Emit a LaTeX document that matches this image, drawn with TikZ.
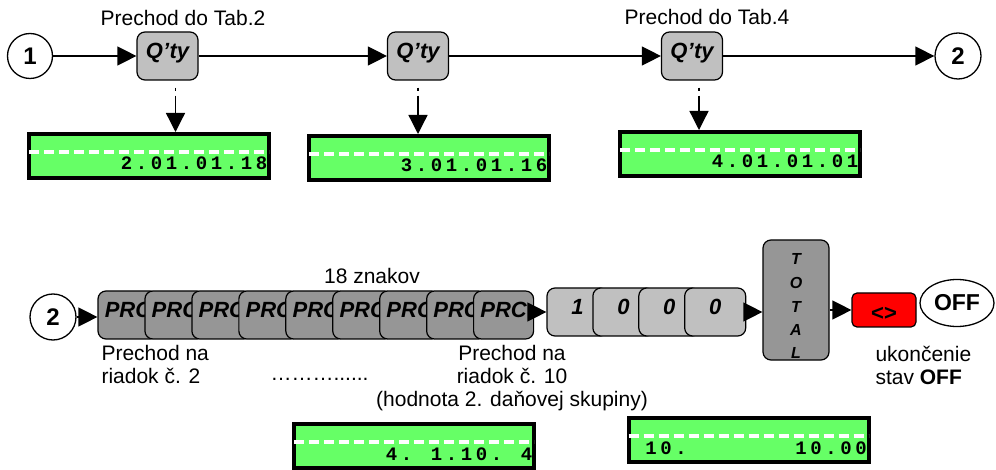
\documentclass[tikz,border=0pt]{standalone}
\usepackage{fontspec}
\setmainfont{Liberation Sans}
\newfontfamily\lcdfont{Liberation Mono}
\usepackage{tikz}
\usetikzlibrary{arrows.meta, positioning, shapes.geometric}
\definecolor{keylight}{HTML}{C0C0C0}
\definecolor{keydark}{HTML}{969696}
\definecolor{keyred}{HTML}{FF0000}
\definecolor{lcdgreen}{HTML}{66FF66}
% one fixed cell per display character
\newcommand\lcdchars[1]{\lcdloop#1\relax}
\def\lcdloop#1{\ifx\relax#1\else\makebox[15pt]{#1}\expandafter\lcdloop\fi}

\begin{document}
\begin{tikzpicture}[x=1pt, y=-1pt, font=\fontsize{21}{23}\selectfont,
    arr/.style={-{Triangle[length=19pt,width=19pt]}, line width=1.3pt},
    keyc/.style={circle, draw, line width=1.3pt, minimum size=45pt, inner sep=0pt, font=\fontsize{24}{24}\selectfont\bfseries},
    qty/.style={draw, line width=1.2pt, rounded corners=8pt, fill=keylight, minimum width=61pt, minimum height=48pt, inner sep=0pt, text height=15pt, text depth=10pt, font=\fontsize{22}{22}\selectfont\bfseries\itshape},
    prc/.style={qty, fill=keydark, minimum width=60pt},
    total/.style={draw, line width=1.2pt, rounded corners=8pt, fill=keydark, minimum width=66pt, minimum height=120pt, inner sep=0pt, align=center, font=\fontsize{16}{23.5}\selectfont\bfseries\itshape},
    lcd/.style={draw, line width=4pt, fill=lcdgreen, minimum width=240pt, minimum height=44pt, inner sep=0pt, text width=240pt, align=right, text height=36pt, text depth=8pt, font=\lcdfont\fontsize{19}{19}\selectfont\bfseries},
    lcddash/.style={white, line width=3.5pt, dash pattern=on 10pt off 5pt}]
\useasboundingbox (0,0) rectangle (996,470);

% upper row
\node[keyc] (c1) at (30,56) {1};
\node[qty] (q1) at (167.5,56) {Q’ty};
\node[qty] (q2) at (418,56) {Q’ty};
\node[qty] (q3) at (692,56) {Q’ty};
\node[keyc, minimum size=46pt] (c2) at (958,56) {2};
\node[anchor=base] (tab2) at (183,26) {Prechod do Tab.2};
\node[anchor=base] (tab4) at (707,25) {Prechod do Tab.4};
\foreach \a/\b in {c1/q1, q1/q2, q2/q3, q3/c2}
\draw[arr] (\a.east) -- (\b.west);

\node[lcd] (d1) at (149,156) {\lcdchars{2.01.01.18}};
\node[lcd] (d2) at (429,158) {\lcdchars{3.01.01.16}};
\node[lcd] (d3) at (740,154) {\lcdchars{4.01.01.01}};
\foreach \q/\d/\s in {q1/d1/8, q2/d2/0, q3/d3/7} {
  \coordinate (s\d) at ([xshift=\s pt, yshift=-7pt]\q.south);
  \draw[arr, dash pattern=on 3pt off 5pt on 100pt] (s\d) -- (s\d |- \d.north);
}

% lower row
\node[keyc, minimum size=46pt] (c3) at (53,317) {2};
\node[prc] (p1) at (128,315) {PRC};
\foreach \i [count=\j from 2] in {1,...,8}
\node[prc, right=-14.25pt of p\i] (p\j) {PRC};
\node[qty] (n1) at (577.5,312) {1};
\foreach \i/\t [count=\j from 2] in {1/0, 2/0, 3/0}
\node[qty, right=-16.3pt of n\i] (n\j) {\t};
\node[total] (tot) at (796,300) {\rule{0pt}{24pt}T\\O\\T\\A\\L};
\node[draw, line width=1.2pt, rounded corners=5pt, fill=keyred, minimum width=64pt, minimum height=34pt, inner sep=0pt, text height=20pt, text depth=0pt, font=\fontsize{22}{22}\selectfont\bfseries] (red) at (884,310) {<>};
\node[ellipse, draw, line width=1.3pt, minimum width=74pt, minimum height=47pt, inner sep=0pt, font=\fontsize{23}{23}\selectfont\bfseries] (off) at (957,303) {OFF};

\draw[arr] (c3.east) -- (c3.east -| p1.west);
\draw[arr] (p9.east |- n1.west) -- (n1.west);
\draw[arr] (n4.east) -- (n4.east -| tot.west);
\draw[arr] (tot.east |- red.west) -- (red.west);

\node[anchor=base] (chars) at (372,284) {18 znakov};
\node[anchor=north west, align=left] (row2) at (98,342) {Prechod na\\riadok č. 2};
\node[anchor=base west] (dots) at (267,380) {………......};
\node[anchor=north, align=center] (row10) at (512,342) {Prechod na\\riadok č. 10\\(hodnota 2. daňovej skupiny)};
\node[anchor=north west, align=left] (end) at (872,343) {ukončenie\\stav \textbf{OFF}};

\node[lcd] (d4) at (414,446) {\lcdchars{4.~1.10.~4}};
\node[lcd] (d5) at (748.5,440) {\lcdchars{10.~~~~~~~10.00}};
\foreach \i in {1,...,5}
\draw[lcddash] ([xshift=2pt, yshift=4pt]d\i.west) -- ([xshift=-2pt, yshift=4pt]d\i.east);
\end{tikzpicture}
\end{document}
